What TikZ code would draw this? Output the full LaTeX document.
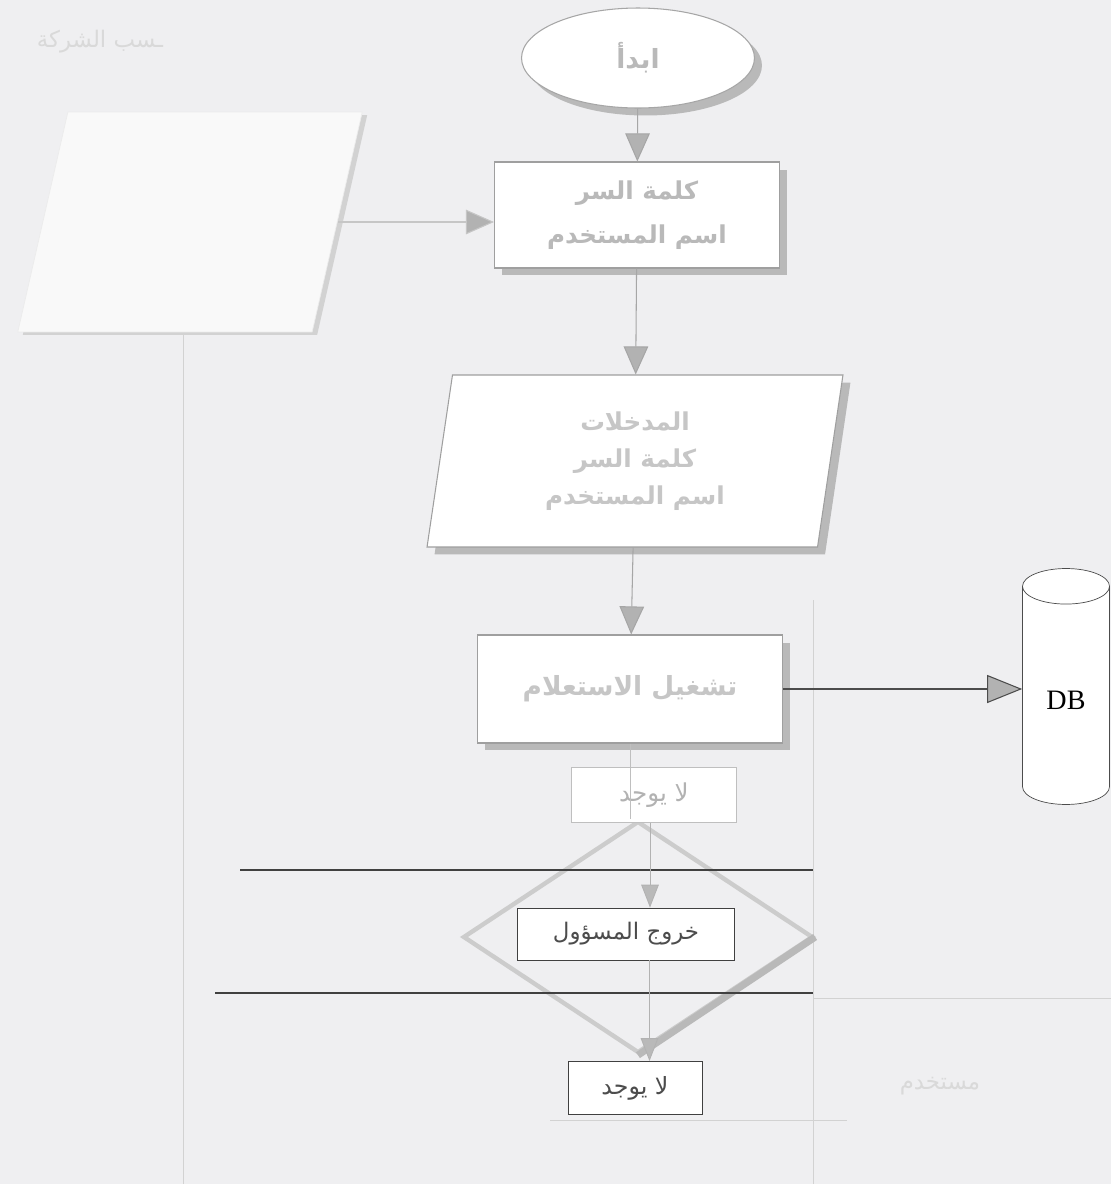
\documentclass[tikz,border=0pt]{standalone}
\usepackage{fontspec}
\setmainfont{Liberation Serif}
\newfontfamily\arabicfont[Script=Arabic]{DejaVu Sans}
\TeXXeTstate=1
\usetikzlibrary{positioning,shapes.geometric,arrows.meta,shadows}
\newcommand{\artext}[1]{\beginR #1\endR}
\definecolor{paper}{RGB}{239,239,241}
\tikzset{
  box3d/.style={draw=gray!75, fill=white, line width=0.6pt, align=center,
    drop shadow={shadow xshift=1.5mm, shadow yshift=-1.5mm, fill=gray!55, opacity=1},
    font=\arabicfont\bfseries, text=gray!55},
  plainbox/.style={draw=black!75, line width=0.5pt, fill=white, font=\arabicfont, text=black!70},
  lightbox/.style={draw=gray!50, line width=0.5pt, fill=white, font=\arabicfont, text=gray!60},
  flow/.style={draw=gray!70, line width=0.6pt, -{Triangle[width=14pt,length=16pt,fill=gray!60]}},
  flowsm/.style={draw=gray!60, line width=0.5pt, -{Triangle[width=10pt,length=13pt,fill=gray!55]}},
  faint/.style={draw=gray!35, line width=0.5pt},
  rule/.style={draw=black!75, line width=0.8pt},
  faint text/.style={font=\arabicfont\fontsize{13}{15}\selectfont, text=gray!30}
}
\begin{document}
\begin{tikzpicture}[x=0.02cm,y=-0.02cm]
\useasboundingbox[fill=paper] (0,0) rectangle (1111,1184);

% lines from the sheet behind
\draw[faint] (183,300) -- (183,1184);
\draw[faint] (813,600) -- (813,1184);
\draw[faint] (550,1120) -- (847,1120);
\draw[faint] (813,998) -- (1111,998);
\node[faint text] (hdr) at (100,42) {\artext{ـسب الشركة}};
\node[faint text] (usr) at (940,1086) {\artext{مستخدم}};

% left block, faint
\node[trapezium, trapezium left angle=78, trapezium right angle=102, trapezium stretches,
      minimum width=6.9cm, minimum height=4.4cm, draw=gray!15, fill=white!60!paper,
      drop shadow={shadow xshift=1mm, shadow yshift=-0.6mm, fill=gray!35, opacity=1}] (src) at (190,222) {\phantom{x}};

% main chain
\node[box3d, ellipse, draw=gray!70, minimum width=4.66cm, minimum height=2cm,
      font=\arabicfont\bfseries\fontsize{15}{20}\selectfont] (start) at (638,58) {\artext{ابدأ}};
\node[box3d, minimum width=5.7cm, minimum height=2.12cm,
      font=\arabicfont\bfseries\fontsize{14}{25}\selectfont] (login) at (637,215)
      {\artext{كلمة السر}\\ \artext{اسم المستخدم}};
\node[box3d, trapezium, trapezium left angle=77, trapezium right angle=103, trapezium stretches body,
      minimum width=8.32cm, minimum height=3.44cm, text=gray!45,
      font=\arabicfont\bfseries\fontsize{14}{21}\selectfont] (inp) at (635,461)
      {\artext{المدخلات}\\ \artext{كلمة السر}\\ \artext{اسم المستخدم}};
\node[box3d, minimum width=6.1cm, minimum height=2.16cm, text=gray!45,
      font=\arabicfont\bfseries\fontsize{15}{20}\selectfont] (qry) at (630,689)
      {\artext{تشغيل الاستعلام}};
\node[cylinder, shape border rotate=90, draw=black!70, fill=white, aspect=0.7,
      minimum width=1.74cm, minimum height=4.72cm, font=\fontsize{16}{18}\selectfont] (db) at (1066,700) {DB};

% check part
\node[diamond, draw=gray!40, line width=2.5pt, minimum width=7cm, minimum height=4.64cm] (chk) at (638,937) {};
\draw[gray!55, line width=4pt] (chk.east) -- (chk.south);
\node[lightbox, minimum width=3.3cm, minimum height=1.1cm, font=\arabicfont\fontsize{14}{16}\selectfont] (no1) at (654,795) {\artext{لا يوجد}};
\node[plainbox, minimum width=4.34cm, minimum height=1.04cm, font=\arabicfont\fontsize{13}{16}\selectfont] (exit) at (626,934) {\artext{خروج المسؤول}};
\node[plainbox, minimum width=2.68cm, minimum height=1.06cm, font=\arabicfont\fontsize{13.5}{16}\selectfont] (no2) at (635,1088) {\artext{لا يوجد}};

\draw[rule] (240,870) -- (813,870);
\draw[rule] (215,993) -- (813,993);

% connectors
\draw[flow, draw=gray!45] (src.east) -- (src.east -| login.west);
\draw[flow] (start) -- (login);
\draw[flow] (login) -- (inp);
\draw[flow] (inp) -- (qry);
\draw[draw=black!70, line width=0.6pt, -{Triangle[width=16pt,length=20pt,fill=gray!60]}] (qry.east) -- (qry.east -| db.west);
\draw[gray!50, line width=0.5pt] (qry.south) -- (qry.south |- chk.north);
\draw[flowsm] ([xshift=-0.08cm]no1.south) -- ([xshift=-0.08cm]no1.south |- exit.north);
\draw[flowsm] ([xshift=0.47cm]exit.south) -- ([xshift=0.47cm]exit.south |- no2.north);
\end{tikzpicture}
\end{document}
